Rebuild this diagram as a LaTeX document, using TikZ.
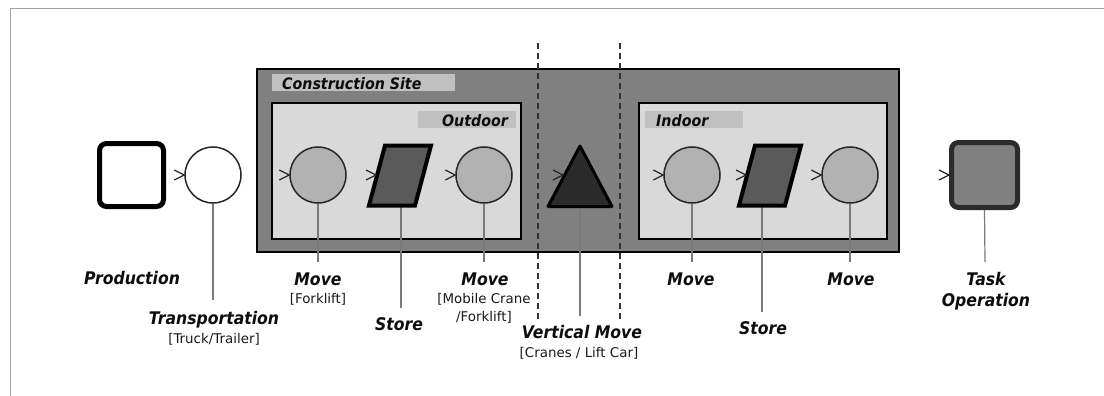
\documentclass[tikz,border=0pt]{standalone}
\usepackage{fontspec}
\setmainfont{DejaVu Sans}
\newfontfamily\labfont[FakeStretch=0.9]{DejaVu Sans Bold Oblique}
\usetikzlibrary{calc}
\definecolor{siteg}{HTML}{808080}
\definecolor{innerg}{HTML}{D9D9D9}
\definecolor{tagg}{HTML}{C0C0C0}
\definecolor{circg}{HTML}{B2B2B2}
\definecolor{storeg}{HTML}{5A5A5A}
\definecolor{triag}{HTML}{2B2B2B}
\definecolor{frameg}{HTML}{A0A0A0}
\definecolor{stemg}{HTML}{7A7A7A}
\definecolor{dashg}{HTML}{333333}
\tikzset{
  big/.style={font=\labfont\fontsize{17.4}{20}\selectfont, inner sep=0, anchor=base, text=black!95},
  small/.style={font=\fontsize{13.4}{15}\selectfont, inner sep=0, anchor=base, text=black!90},
  tagtext/.style={font=\labfont\fontsize{15.8}{18}\selectfont, inner sep=0, text=black!95},
  tagbox/.style={fill=tagg, inner sep=0, minimum height=17},
  opcirc/.style={circle, draw=black!85, line width=1.5pt, fill=circg, minimum size=56, inner sep=0},
  storepath/.style={draw=black, line width=4pt, fill=storeg, line join=miter},
  stem/.style={draw=stemg, line width=1.2pt},
  chev/.style={draw=black!85, line width=1.2pt},
  dashline/.style={draw=dashg, line width=1.6pt, dash pattern=on 6pt off 4pt},
  area/.style={draw=black, line width=2pt, inner sep=0},
  endbox/.style={line width=5pt, rounded corners=7pt, inner sep=0}
}
\newcommand{\chevat}[1]{\draw[chev] ($(#1)+(-10,-5)$) -- (#1) -- ($(#1)+(-10,5)$);}
\begin{document}
\begin{tikzpicture}[x=1pt,y=-1pt]
\useasboundingbox (0,0) rectangle (1104,396);
% outer frame
\draw[frameg, line width=1pt] (10,396) -- (10,9) -- (1104,9);

% containers
\node[area, fill=siteg, minimum width=642, minimum height=183] (site) at (578,160.5) {};
\node[tagbox, minimum width=183] (sitetag) at (363.5,82.5) {};
\node[tagtext, anchor=base west] (sitelab) at (282,89) {Construction Site};
\node[area, fill=innerg, minimum width=249, minimum height=136] (outdoor) at (396.5,171) {};
\node[tagbox, minimum width=98] (outtag) at (467,119.5) {};
\node[tagtext, anchor=base east] (outlab) at (508,126) {Outdoor};
\node[area, fill=innerg, minimum width=248, minimum height=136] (indoor) at (763,171) {};
\node[tagbox, minimum width=98] (intag) at (694,119.5) {};
\node[tagtext, anchor=base west] (inlab) at (656,126) {Indoor};

% dashed boundaries
\draw[dashline] (538,43) -- (538,322);
\draw[dashline] (620,43) -- (620,322);

% stem end points
\coordinate (tE) at (213,300);
\coordinate (m1E) at (318,262);
\coordinate (s1B) at (401,207);
\coordinate (s1E) at (401,308);
\coordinate (m2E) at (484,262);
\coordinate (vB) at (580,207);
\coordinate (vE) at (580,316);
\coordinate (m3E) at (692,262);
\coordinate (s2B) at (762,207);
\coordinate (s2E) at (762,312);
\coordinate (m4E) at (850,262);
\coordinate (taskE) at (985,262);

% stems (behind shapes)
\draw[stem] (s1B) -- (s1E);
\draw[stem] (vB) -- (vE);
\draw[stem] (s2B) -- (s2E);

% shapes
\node[draw=black, endbox, fill=white, minimum width=64, minimum height=63] (prod) at (131.5,175) {};
\node[opcirc, fill=white] (trans) at (213,175) {};
\node[opcirc] (m1) at (318,175) {};
\draw[storepath] (385,145.5) -- (431,145.5) -- (415,205.5) -- (369,205.5) -- cycle;
\coordinate (s1W) at (376,175);
\node[opcirc] (m2) at (484,175) {};
\draw[draw=black, line width=3pt, fill=triag, line join=round] (580,146) -- (612,206.5) -- (548,206.5) -- cycle;
\coordinate (vW) at (563,175);
\node[opcirc] (m3) at (692,175) {};
\draw[storepath] (755,145.5) -- (801,145.5) -- (785,205.5) -- (739,205.5) -- cycle;
\coordinate (s2W) at (746,175);
\node[opcirc] (m4) at (850,175) {};
\node[draw=triag, endbox, fill=siteg, minimum width=66, minimum height=65] (task) at (984.5,175) {};

% stems from nodes
\draw[stem] (trans.south) -- (tE);
\draw[stem] (m1.south) -- (m1E);
\draw[stem] (m2.south) -- (m2E);
\draw[stem] (m3.south) -- (m3E);
\draw[stem] (m4.south) -- (m4E);
\draw[stem] (task.south) -- (taskE);

% chevrons
\chevat{trans.west}
\chevat{m1.west}
\chevat{s1W}
\chevat{m2.west}
\chevat{vW}
\chevat{m3.west}
\chevat{s2W}
\chevat{m4.west}
\chevat{task.west}

% labels
\node[big] (lprod) at (132,284.5) {Production};
\node[big] (ltrans) at (214,324) {Transportation};
\node[small] (ltrans2) at (214,343) {[Truck/Trailer]};
\node[big] (lm1) at (318,285) {Move};
\node[small] (lm1b) at (318,303) {[Forklift]};
\node[big] (ls1) at (399,330) {Store};
\node[big] (lm2) at (485,285) {Move};
\node[small] (lm2b) at (484,303) {[Mobile Crane};
\node[small] (lm2c) at (484,321) {/Forklift]};
\node[big] (lv) at (582,338) {Vertical Move};
\node[small] (lv2) at (579,357) {[Cranes / Lift Car]};
\node[big] (lm3) at (691,285) {Move};
\node[big] (ls2) at (763,334) {Store};
\node[big] (lm4) at (851,285) {Move};
\node[big] (ltask) at (986,285) {Task};
\node[big] (ltask2) at (986,306) {Operation};
\end{tikzpicture}
\end{document}
